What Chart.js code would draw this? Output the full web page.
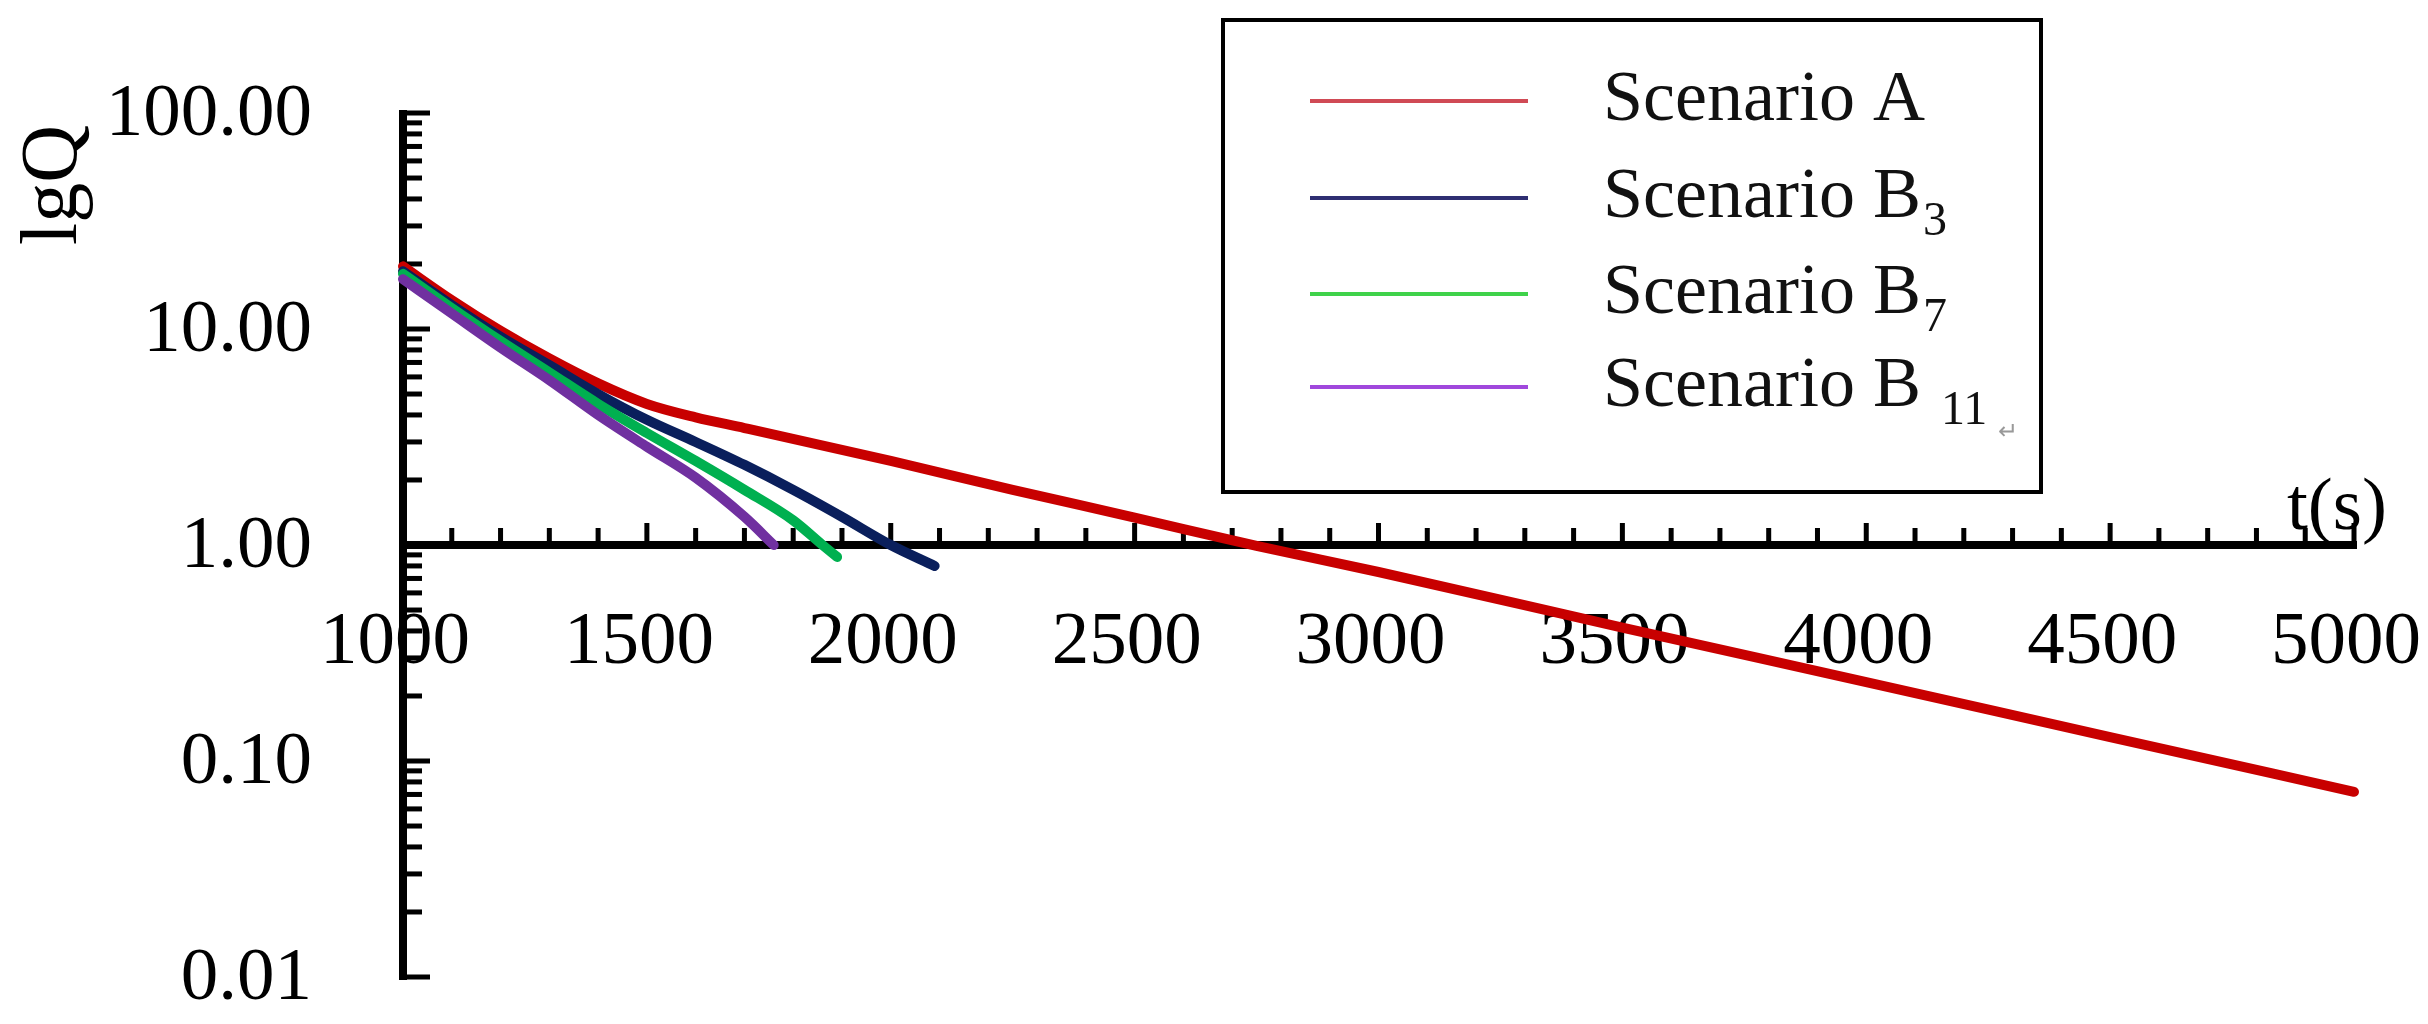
<!DOCTYPE html>
<html>
<head>
<meta charset="utf-8">
<script src="https://cdn.jsdelivr.net/npm/chart.js@4.4.1/dist/chart.umd.min.js"></script>
<style>
  html, body { margin: 0; padding: 0; background: #ffffff; }
  #wrap { width: 2428px; height: 1024px; position: relative; }
</style>
</head>
<body>
<div id="wrap"><canvas id="c" width="2428" height="1024"></canvas></div>
<script>
// ---- data ----
const tA  = [1000, 1100, 1200, 1300, 1400, 1500, 1600, 1700, 2000, 2250, 2500, 2750, 3000, 3500, 4000, 4500, 5000];
const qA  = [19.5, 13.6, 9.8, 7.3, 5.6, 4.5, 3.9, 3.48, 2.45, 1.8, 1.34, 0.99, 0.75, 0.415, 0.232, 0.129, 0.072];

const tB3 = [1000, 1100, 1200, 1300, 1400, 1500, 1600, 1700, 1800, 1900, 2000, 2090];
const qB3 = [18.5, 12.9, 9.2, 6.8, 5.0, 3.8, 3.0, 2.35, 1.8, 1.35, 1.0, 0.8];

const tB7 = [1000, 1100, 1200, 1300, 1400, 1500, 1600, 1700, 1800, 1860, 1890];
const qB7 = [18.0, 12.5, 8.8, 6.3, 4.5, 3.3, 2.45, 1.8, 1.3, 1.0, 0.88];

const tB11 = [1000, 1100, 1200, 1300, 1400, 1500, 1600, 1700, 1760];
const qB11 = [17.0, 11.8, 8.2, 5.8, 4.0, 2.85, 2.05, 1.35, 1.0];

const seriesNames = ['Scenario A', 'Scenario B', 'Scenario B', 'Scenario B '];
const seriesSubs  = ['', '3', '7', '11'];
const seriesColors = ['#c80000', '#0a1f5c', '#00b050', '#7030a0'];
const legendColors = ['#d04a55', '#2e2e72', '#3fd24a', '#a048dc'];

const xTickValues = [1000, 1500, 2000, 2500, 3000, 3500, 4000, 4500, 5000];
const xTickLabels = ['1000', '1500', '2000', '2500', '3000', '3500', '4000', '4500', '5000'];
const yTickValues = [100, 10, 1, 0.1, 0.01];
const yTickLabels = ['100.00', '10.00', '1.00', '0.10', '0.01'];
const yTitle = 'lgQ';
const xTitle = 't(s)';

function pts(t, q) { return t.map((v, i) => ({ x: v, y: q[i] })); }

const FONT = '"Liberation Serif", "Times New Roman", serif';

const axesPlugin = {
  id: 'customAxes',
  beforeDatasetsDraw(chart) {
    const ctx = chart.ctx;
    const xs = chart.scales.x, ys = chart.scales.y;
    const x0 = xs.getPixelForValue(1000);
    const xEnd = xs.getPixelForValue(5000);
    const y1 = ys.getPixelForValue(1);
    const yTop = ys.getPixelForValue(100);
    const yBot = ys.getPixelForValue(0.01);
    ctx.save();
    ctx.fillStyle = '#000';
    // y axis line
    ctx.fillRect(x0 - 4, yTop - 3, 8, yBot - yTop + 6);
    // y ticks
    for (let d = 0.01; d < 100; d *= 10) {
      for (let m = 1; m <= 9; m++) {
        const v = d * m;
        const y = ys.getPixelForValue(v);
        const len = (m === 1) ? 27 : 19;
        ctx.fillRect(x0, y - 2.5, len, 5);
      }
    }
    ctx.fillRect(x0, yTop - 2.5, 27, 5);
    // x axis line
    ctx.fillRect(x0, y1 - 4, xEnd - x0 + 3, 8);
    for (let t = 1100; t <= 5000; t += 100) {
      const x = xs.getPixelForValue(t);
      const len = (t % 500 === 0) ? 22 : 17;
      ctx.fillRect(x - 2.5, y1 - len, 5, len);
    }
    // y labels
    ctx.font = '75px ' + FONT;
    ctx.textAlign = 'right';
    ctx.textBaseline = 'middle';
    yTickValues.forEach((v, i) => {
      ctx.fillText(yTickLabels[i], x0 - 91, ys.getPixelForValue(v) + 2);
    });
    // x labels
    ctx.textAlign = 'center';
    xTickValues.forEach((v, i) => {
      ctx.fillText(xTickLabels[i], xs.getPixelForValue(v) - 8, y1 + 98);
    });
    // x title
    ctx.textAlign = 'left';
    ctx.fillText(xTitle, 2287, y1 - 36);
    // y title
    ctx.save();
    ctx.translate(55, 185);
    ctx.rotate(-Math.PI / 2);
    ctx.textAlign = 'center';
    ctx.font = '80px ' + FONT;
    ctx.fillText(yTitle, 0, 0);
    ctx.restore();

    // legend box
    ctx.lineWidth = 4;
    ctx.strokeStyle = '#000';
    ctx.strokeRect(1223, 20, 2041 - 1223, 492 - 20);
    const rows = [101, 198, 294, 387];
    rows.forEach((ry, i) => {
      ctx.strokeStyle = legendColors[i];
      ctx.lineWidth = 4;
      ctx.beginPath();
      ctx.moveTo(1310, ry);
      ctx.lineTo(1528, ry);
      ctx.stroke();
      ctx.fillStyle = '#111';
      ctx.font = '72px ' + FONT;
      ctx.textAlign = 'left';
      ctx.textBaseline = 'middle';
      ctx.fillText(seriesNames[i], 1603, ry);
      const w = ctx.measureText(seriesNames[i]).width;
      if (seriesSubs[i]) {
        ctx.font = '48px ' + FONT;
        ctx.fillText(seriesSubs[i], 1603 + w + 2, ry + 24);
      }
    });
    ctx.fillStyle = '#999';
    ctx.font = '24px ' + FONT;
    ctx.fillText('\u21B5', 1998, 433);
    ctx.restore();
  }
};

const ds = (label, t, q, color) => ({
  label, data: pts(t, q), borderColor: color, backgroundColor: color,
  borderWidth: 10, pointRadius: 0, fill: false, tension: 0.4,
  cubicInterpolationMode: 'monotone', clip: false, borderCapStyle: 'round'
});

new Chart(document.getElementById('c'), {
  type: 'line',
  data: {
    datasets: [
      ds('Scenario B11', tB11, qB11, seriesColors[3]),
      ds('Scenario B7', tB7, qB7, seriesColors[2]),
      ds('Scenario B3', tB3, qB3, seriesColors[1]),
      ds('Scenario A', tA, qA, seriesColors[0])
    ]
  },
  options: {
    responsive: false,
    animation: false,
    devicePixelRatio: 1,
    layout: { padding: { left: 403, right: 2428 - 2354, top: 113, bottom: 1024 - 977 } },
    plugins: { legend: { display: false }, tooltip: { enabled: false } },
    scales: {
      x: { type: 'linear', min: 1000, max: 5000, display: false },
      y: { type: 'logarithmic', min: 0.01, max: 100, display: false }
    }
  },
  plugins: [axesPlugin]
});
</script>
</body>
</html>
